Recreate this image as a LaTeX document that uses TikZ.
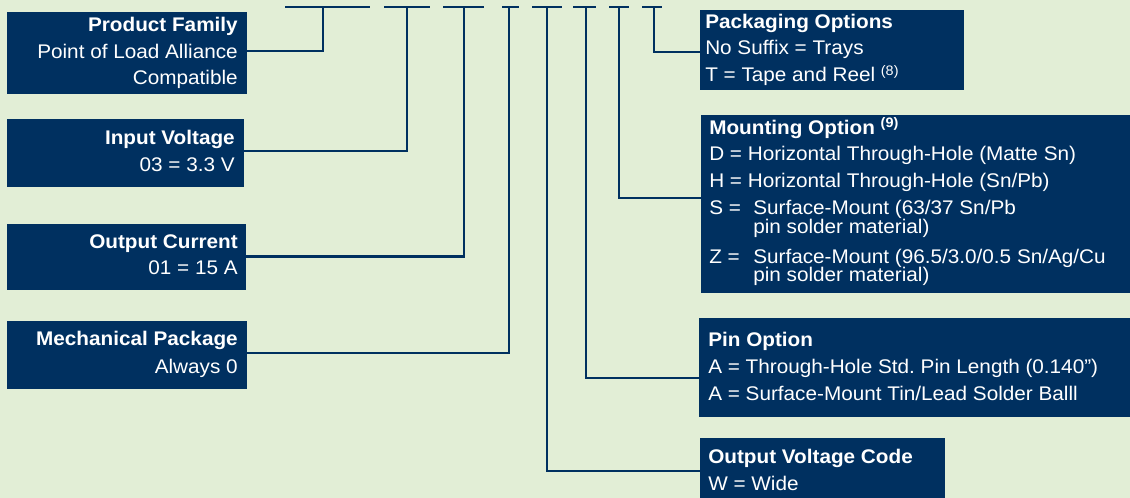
\documentclass[tikz,border=0pt]{standalone}
\usepackage{fontspec}
\setmainfont{Liberation Sans}[FakeStretch=1.05]
\usetikzlibrary{fit}
\definecolor{navy}{HTML}{003060}
\definecolor{bgc}{HTML}{E2EED6}
\newcommand\supnote[1]{\raisebox{4.8pt}{\fontsize{10.3}{11}\selectfont #1}}
\frenchspacing
\begin{document}
\begin{tikzpicture}[x=0.75pt,y=-0.75pt,
  box/.style={fill=navy, draw=none, inner sep=0pt},
  conn/.style={draw=navy, line width=2.1pt, line join=miter},
  txt/.style={text=white, inner sep=0pt, font=\fontsize{14.8}{17}\selectfont\frenchspacing},
  lt/.style={txt, anchor=base west},
  rt/.style={txt, anchor=base east}]
\useasboundingbox (0,0) rectangle (1130,498);
\fill[bgc] (0,0) rectangle (1130,498);

% boxes
\node[box, fit={(7,12)(247,94)}] (pf) {};
\node[box, fit={(7,119)(244,187)}] (iv) {};
\node[box, fit={(7,224)(246,290)}] (oc) {};
\node[box, fit={(7,321)(247,389)}] (mp) {};
\node[box, fit={(700,10)(964,90)}] (po) {};
\node[box, fit={(701,115)(1130,293)}] (mo) {};
\node[box, fit={(699,318)(1130,417)}] (pi) {};
\node[box, fit={(700,438)(945,498)}] (ov) {};

% dashes
\foreach \n/\a/\b/\m in {1/285/370/323, 2/384/430/407, 3/443/484/464, 4/502/519/509,
                          5/532/562/547, 6/573/596/586, 7/609/629/619, 8/642/662/654}{
  \coordinate (d\n a) at (\a,7);
  \coordinate (d\n b) at (\b,7);
  \coordinate (d\n) at (\m,7);
  \draw[conn] (d\n a) -- (d\n b);
}

% connectors
\draw[conn] (d1) |- (pf.east |- 0,51);
\draw[conn] (d2) |- (iv.east |- 0,151);
\draw[conn] (d3) |- (oc.east |- 0,256.5);
\draw[conn] (d4) |- (mp.east |- 0,353);
\draw[conn] (d5) |- (ov.west |- 0,471);
\draw[conn] (d6) |- (pi.west |- 0,378);
\draw[conn] (d7) |- (mo.west |- 0,198);
\draw[conn] (d8) |- (po.west |- 0,52);

% left texts
\node[rt] (pf0) at (238,31.7) {\bfseries Product Family};
\node[rt] (pf1) at (238,58.3) {Point of Load Alliance};
\node[rt] (pf2) at (238,85) {Compatible};

\node[rt] (iv0) at (235,145) {\bfseries Input Voltage};
\node[rt] (iv1) at (235,171.7) {03 = 3.3 V};

\node[rt] (oc0) at (238,248.3) {\bfseries Output Current};
\node[rt] (oc1) at (238,274.3) {01 = 15 A};

\node[rt] (mp0) at (238,346) {\bfseries Mechanical Package};
\node[rt] (mp1) at (238,373.3) {Always 0};

% right texts
\node[lt] (po0) at (705,28.3) {\bfseries Packaging Options};
\node[lt] (po1) at (705,55) {No Suffix = Trays};
\node[lt] (po2) at (705,81.7) {T = Tape and Reel \supnote{(8)}};

\node[lt] (mo0) at (709,134.3) {\bfseries Mounting Option \supnote{(9)}};
\node[lt] (mo1) at (709,160.7) {D = Horizontal Through-Hole (Matte Sn)};
\node[lt] (mo2) at (709,187.7) {H = Horizontal Through-Hole (Sn/Pb)};
\node[lt] (mo3) at (709,214.3) {\makebox[33pt][l]{S =}Surface-Mount (63/37 Sn/Pb};
\node[lt] (mo4) at (753,233.3) {pin solder material)};
\node[lt] (mo5) at (709,263.3) {\makebox[33pt][l]{Z =}Surface-Mount (96.5/3.0/0.5 Sn/Ag/Cu};
\node[lt] (mo6) at (753,282) {pin solder material)};

\node[lt] (pi0) at (708,346.7) {\bfseries Pin Option};
\node[lt] (pi1) at (708,373.3) {A = Through-Hole Std. Pin Length (0.140”)};
\node[lt] (pi2) at (708,400) {A = Surface-Mount Tin/Lead Solder Balll};

\node[lt] (ov0) at (708,463.3) {\bfseries Output Voltage Code};
\node[lt] (ov1) at (708,490) {W = Wide};
\end{tikzpicture}
\end{document}
